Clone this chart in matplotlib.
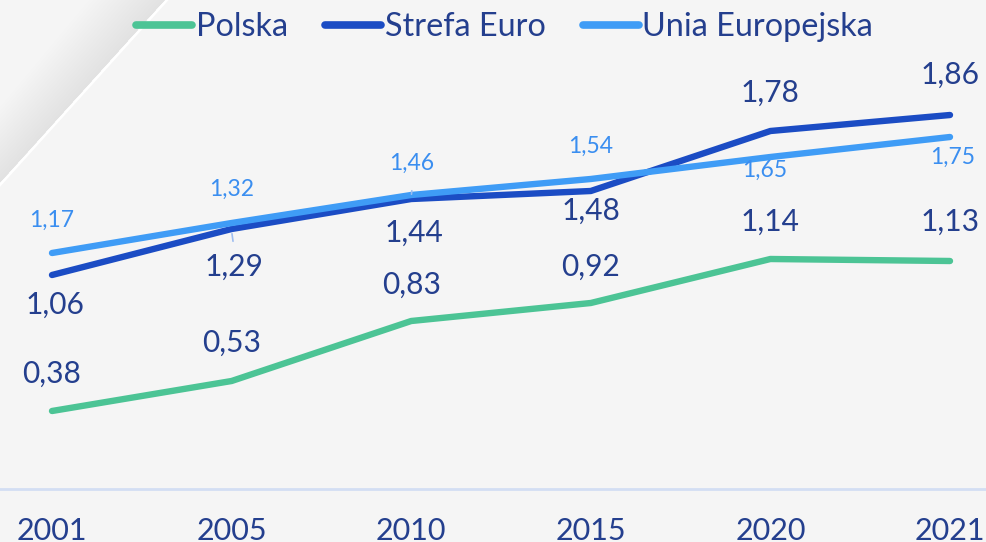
import matplotlib
matplotlib.use("Agg")
import matplotlib.pyplot as plt
import numpy as np
from matplotlib.lines import Line2D
from matplotlib.patches import Polygon

years = ["2001", "2005", "2010", "2015", "2020", "2021"]
polska = [0.38, 0.53, 0.83, 0.92, 1.14, 1.13]
strefa_euro = [1.06, 1.29, 1.44, 1.48, 1.78, 1.86]
unia_eu = [1.17, 1.32, 1.46, 1.54, 1.65, 1.75]
series_names = ["Polska", "Strefa Euro", "Unia Europejska"]

# label offsets in pixels (dx, dy; dy positive = up)
off_pl = [(0, 37), (0, 38), (0, 36), (0, 36), (0, 37), (0, 39)]
off_se = [(3, -30), (2, -38), (3, -34), (0, -20), (0, 38), (0, 40)]
off_ue = [(0, 33), (0, 34), (0, 32), (0, 33), (-6, -13), (3, -20)]

C_PL = "#4cc495"
C_SE = "#1b4cc4"
C_UE = "#3f9cf6"
C_TXT = "#243f8e"
C_TXT_UE = "#3a8ef0"

W, H = 986, 542
fig = plt.figure(figsize=(W / 100, H / 100), dpi=100)
fig.patch.set_facecolor("#f5f5f5")

# background diagonal with soft shadow
def px(x, y):
    return (x / W, 1 - y / H)

x0, y0 = 167, 0
x1, y1 = 0, 185
for i in range(20):
    d = i * 4.0
    poly = Polygon([px(x0 - 2, y0), px(x1, y1 - 2), px(x1, max(y1 - 2 - d, 0)), px(max(x0 - 2 - d, 0), y0)],
                   closed=True, transform=fig.transFigure, facecolor="#a0a0a0",
                   edgecolor="none", alpha=0.003, zorder=0)
    fig.patches.append(poly)
fig.lines.append(Line2D([x0 / W, x1 / W], [1, 1 - y1 / H], transform=fig.transFigure,
                        color="white", lw=1.8, zorder=1))

ax = fig.add_axes([0, 0, 1, 1])
ax.set_facecolor("none")
ax.axis("off")

x0px, step = 52, 179.6
y0px, unit = 487, 200
ax.set_xlim(-x0px / step, (W - x0px) / step)
ax.set_ylim((y0px - H) / unit, y0px / unit)

x = np.arange(len(years))
ax.axhline((y0px - 489) / unit, color="#d3def3", lw=2, zorder=1)

lw = 4.6
ax.plot(x, polska, color=C_PL, lw=lw, solid_capstyle="round", solid_joinstyle="round", zorder=3)
ax.plot(x, unia_eu, color=C_UE, lw=lw, solid_capstyle="round", solid_joinstyle="round", zorder=3)
ax.plot(x, strefa_euro, color=C_SE, lw=lw, solid_capstyle="round", solid_joinstyle="round", zorder=2)

fam = ["Lato", "DejaVu Sans"]

def lab(vals, offs, color, size):
    for i, (v, (dx, dy)) in enumerate(zip(vals, offs)):
        ax.annotate(f"{v:.2f}".replace(".", ","), (x[i], v),
                    xytext=(dx * 0.72, dy * 0.72), textcoords="offset points",
                    ha="center", va="center", color=color, fontsize=size,
                    family=fam, zorder=5)

lab(polska, off_pl, C_TXT, 21.5)
lab(strefa_euro, off_se, C_TXT, 21.5)
lab(unia_eu, off_ue, C_TXT_UE, 16.5)

# small leader lines
ax.annotate("", xy=(x[1], strefa_euro[1] - 0.01), xytext=(x[1] + 0.01, strefa_euro[1] - 0.075),
            arrowprops=dict(arrowstyle="-", color="#9dbdf0", lw=1.2), zorder=4)
ax.annotate("", xy=(x[2], strefa_euro[2] + 0.01), xytext=(x[2] + 0.005, strefa_euro[2] + 0.055),
            arrowprops=dict(arrowstyle="-", color="#9dbdf0", lw=1.2), zorder=4)

for i, yr in enumerate(years):
    ax.text(x[i], (y0px - 540) / unit, yr, ha="center", va="baseline",
            color=C_TXT, fontsize=22, family=fam)

# legend
handles = [Line2D([], [], color=c, lw=5.5, solid_capstyle="round") for c in (C_PL, C_SE, C_UE)]
leg = fig.legend(handles, series_names, loc="center", bbox_to_anchor=(0.512, 0.95),
                 ncol=3, frameon=False, handlelength=1.72, handletextpad=0.12,
                 columnspacing=1.15, borderpad=0, prop={"family": fam, "size": 23.3})
for t in leg.get_texts():
    t.set_color(C_TXT)

fig.savefig("out.png", dpi=100, facecolor=fig.get_facecolor())
